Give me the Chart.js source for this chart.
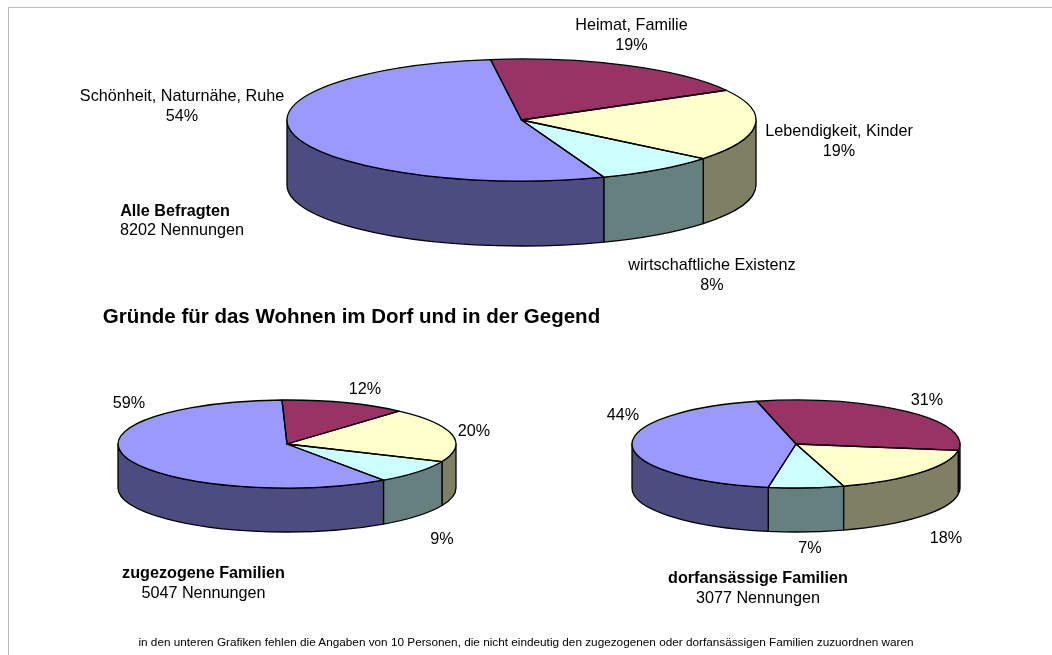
<!DOCTYPE html>
<html lang="de"><head><meta charset="utf-8">
<title>Gründe für das Wohnen im Dorf und in der Gegend</title>
<script src="https://cdn.jsdelivr.net/npm/chart.js@4/dist/chart.umd.min.js"></script>
<style>
html,body{margin:0;padding:0;background:#fff;overflow:hidden}
#stage{position:relative;width:1052px;height:655px;overflow:hidden;font-family:"Liberation Sans",Arial,sans-serif;color:#000}
#frame{position:absolute;left:8px;top:7px;width:1100px;height:700px;border-left:1px solid #bbb;border-top:1px solid #bbb}
canvas{position:absolute;left:0;top:0}
.t{position:absolute;transform:translateX(-50%);white-space:nowrap;text-align:center;font-size:16.2px;line-height:20px}
</style></head><body>
<div id="stage"><div id="frame"></div>
<canvas id="c0" width="1052" height="655"></canvas>
<canvas id="c1" width="1052" height="655"></canvas>
<canvas id="c2" width="1052" height="655"></canvas>
</div>
<script>
const categories = ["Heimat, Familie","Lebendigkeit, Kinder","wirtschaftliche Existenz","Schönheit, Naturnähe, Ruhe"];
const valuesAlle = [19,19,8.4,53.6];
const valuesZugezogen = [12,20,8.8,59.2];
const valuesDorf = [31.2,18,7.4,43.5];
const topColors = ["#993366","#FFFFCC","#CCFFFF","#9999FF"];
const wallColors = ["#4C1933","#7F7F66","#668080","#4C4C7F"];
const titleText = "Gründe für das Wohnen im Dorf und in der Gegend";
const noteText = "in den unteren Grafiken fehlen die Angaben von 10 Personen, die nicht eindeutig den zugezogenen oder dorfansässigen Familien zuzuordnen waren";
const groupNames = ["Alle Befragten","zugezogene Familien","dorfansässige Familien"];
const groupCounts = ["8202 Nennungen","5047 Nennungen","3077 Nennungen"];

const pies = [
 {id:"c0",values:valuesAlle,left:287,right:756,cy:120,ry:61,depth:65,rot:-7.6},
 {id:"c1",values:valuesZugezogen,left:118,right:456,cy:444,ry:44,depth:44,rot:-1.7},
 {id:"c2",values:valuesDorf,left:632,right:960,cy:444,ry:44,depth:44,rot:-13.8}
];

function wallSpans(a,b){
  const out=[];
  for(const k of [-2,0,2]){
    const lo=Math.max(a,k*Math.PI), hi=Math.min(b,(k+1)*Math.PI);
    if(hi>lo) out.push([lo,hi]);
  }
  return out;
}
const pie3d = {
  id:"pie3d",
  beforeDatasetsDraw(chart,args,o){
    const ctx=chart.ctx;
    chart.getDatasetMeta(0).data.forEach((arc,i)=>{
      const k=o.ry/arc.outerRadius;
      wallSpans(arc.startAngle,arc.endAngle).forEach(([a,b])=>{
        ctx.save();
        ctx.beginPath();
        ctx.save();
        ctx.translate(arc.x,o.cy);ctx.scale(1,k);
        ctx.arc(0,0,arc.outerRadius,a,b);
        ctx.restore();
        ctx.save();
        ctx.translate(arc.x,o.cy+o.depth);ctx.scale(1,k);
        ctx.arc(0,0,arc.outerRadius,b,a,true);
        ctx.restore();
        ctx.closePath();
        ctx.fillStyle=wallColors[i];ctx.fill();
        ctx.strokeStyle="#000";ctx.lineWidth=1.3;ctx.lineJoin="round";ctx.stroke();
        ctx.restore();
      });
    });
    ctx.save();
    const a0=chart.getDatasetMeta(0).data[0];
    ctx.translate(0,o.cy);ctx.scale(1,o.ry/a0.outerRadius);ctx.translate(0,-a0.y);
  },
  afterDatasetsDraw(chart,args,o){
    const ctx=chart.ctx;
    ctx.restore();
    chart.getDatasetMeta(0).data.forEach(arc=>{
      const k=o.ry/arc.outerRadius;
      ctx.save();
      ctx.beginPath();
      ctx.save();
      ctx.translate(arc.x,o.cy);ctx.scale(1,k);
      ctx.moveTo(0,0);ctx.arc(0,0,arc.outerRadius,arc.startAngle,arc.endAngle);ctx.closePath();
      ctx.restore();
      ctx.strokeStyle="#000";ctx.lineWidth=1.3;ctx.lineJoin="round";ctx.stroke();
      ctx.restore();
    });
  }
};
pies.forEach(p=>{
  new Chart(document.getElementById(p.id),{
    type:"pie",
    data:{labels:categories,datasets:[{data:p.values,backgroundColor:topColors,borderWidth:0}]},
    plugins:[pie3d],
    options:{responsive:false,animation:false,rotation:p.rot,events:[],
      layout:{padding:{left:p.left,right:1052-p.right,top:0,bottom:0}},
      plugins:{legend:{display:false},tooltip:{enabled:false},pie3d:{cy:p.cy,ry:p.ry,depth:p.depth}}}
  });
});

const stage=document.getElementById("stage");
function text(cx,top,html,css){
  const d=document.createElement("div");d.className="t";d.style.left=cx+"px";d.style.top=top+"px";
  d.innerHTML=html;if(css)d.style.cssText+=css;stage.appendChild(d);
}
const pct=v=>Math.round(v)+"%";
text(631.5,14,categories[0]+"<br>"+pct(valuesAlle[0]));
text(839,120,categories[1]+"<br>"+pct(valuesAlle[1]));
text(712,254,categories[2]+"<br>"+pct(valuesAlle[2]));
text(182,85,categories[3]+"<br>"+pct(valuesAlle[3]));
text(175,200,"<b>"+groupNames[0]+"</b>");
text(182,219,groupCounts[0]);
text(351.5,304,"<b>"+titleText+"</b>","font-size:20.5px;line-height:24px");
text(365,378,pct(valuesZugezogen[0]));
text(474,420,pct(valuesZugezogen[1]));
text(442,528,pct(valuesZugezogen[2]));
text(129,392,pct(valuesZugezogen[3]));
text(203.5,562,"<b>"+groupNames[1]+"</b><br>"+groupCounts[1]);
text(927,389,pct(valuesDorf[0]));
text(946,527,pct(valuesDorf[1]));
text(810,537,pct(valuesDorf[2]));
text(623,404,pct(valuesDorf[3]));
text(758,567,"<b>"+groupNames[2]+"</b><br>"+groupCounts[2]);
text(526,635,noteText,"font-size:11.77px;line-height:14px");
</script>
</body></html>
